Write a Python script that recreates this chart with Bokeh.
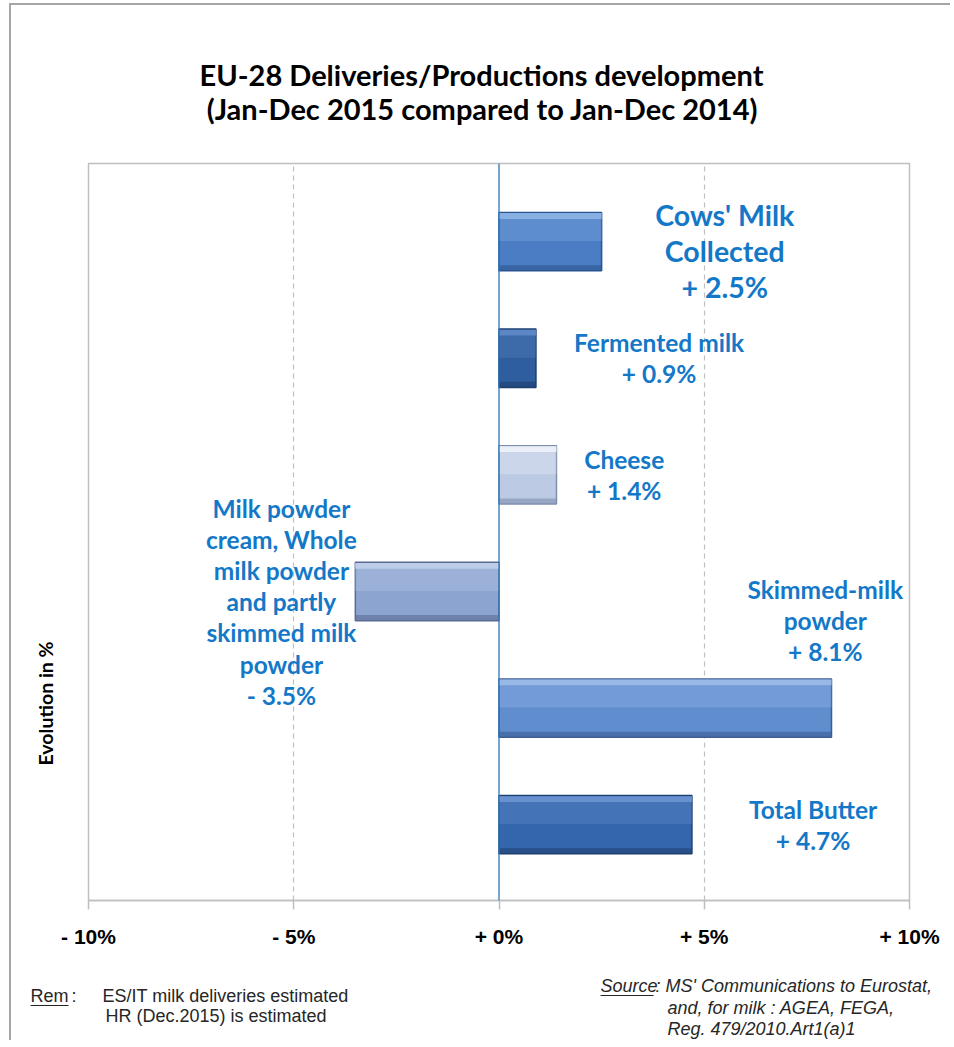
from bokeh.core.properties import value
from bokeh.embed import file_html
from bokeh.layouts import column, row
from bokeh.models import FixedTicker, Range1d, Span, Title
from bokeh.plotting import figure
from bokeh.resources import INLINE

# products, top to bottom as in the chart
CATEGORIES = ["Cows' Milk\nCollected", "Fermented milk", "Cheese",
              "Milk powder\ncream, Whole\nmilk powder\nand partly\nskimmed milk\npowder",
              "Skimmed-milk\npowder", "Total Butter"]
CHANGES = [2.5, 0.9, 1.4, -3.5, 8.1, 4.7]
TICKS = [-10, -5, 0, 5, 10]
TICK_LABELS = ["- 10%", "- 5%", "+ 0%", "+ 5%", "+ 10%"]
TITLE = ["EU-28 Deliveries/Productions development",
         "(Jan-Dec 2015 compared to Jan-Dec 2014)"]
Y_LABEL = "Evolution in %"

# bar look: body, highlight, edge
FILLS = ["#4A7DC4", "#2F5E9E", "#BCCAE4", "#8CA4D0", "#608DCE", "#3366AD"]
LIGHTS = ["#8DB4E6", "#5F8AC6", "#EEF2FA", "#C2D1EC", "#9CBDEA", "#6C95D2"]
EDGES = ["#2B5590", "#1D3F6E", "#7F8FAE", "#5A6C94", "#3C5E94", "#1F406F"]
# where each label sits: x in %, shift in category units
LABEL_X = [5.5, 3.9, 3.05, -5.3, 7.95, 7.65]
LABEL_DY = [-0.08, 0.0, 0.0, -0.09, 0.75, 0.0]
LABEL_BLUE = "#1478C8"
GREY = "#BFBFBF"
W = 950


def pixel_figure(h):
    # a strip where data units are page pixels, for texts around the chart
    f = figure(width=W, height=h, output_backend="svg", toolbar_location=None,
               tools="", x_range=Range1d(0, W), y_range=Range1d(h, 0),
               min_border=0)
    f.axis.visible = False
    f.grid.visible = False
    f.outline_line_color = None
    f.background_fill_color = None
    f.border_fill_color = None
    return f


n = len(CATEGORIES)
pos = [n - i for i in range(n)]

# title strip
head = pixel_figure(150)
head.text(x=[481, 482], y=[74, 108], text=TITLE, text_font=value("Lato"),
          text_font_style="bold", text_font_size="29px", text_color="black",
          text_align="center", text_baseline="middle")

p = figure(width=W, height=810, output_backend="svg", toolbar_location=None,
           tools="", title=None, x_range=Range1d(-10, 10),
           y_range=Range1d(0.35, 6.67), min_border_left=88,
           min_border_right=W - 909, min_border_top=13, min_border_bottom=60)
p.outline_line_color = GREY
p.outline_line_width = 1.5
p.border_fill_color = None

p.add_layout(Title(text=Y_LABEL, align="left", offset=135, standoff=63,
                   text_font="Lato", text_font_style="bold",
                   text_font_size="19.5px", text_color="black"), "left")

p.ygrid.visible = False
p.yaxis.visible = False
p.xgrid.ticker = FixedTicker(ticks=[t for t in TICKS if abs(t) == 5])
p.xgrid.grid_line_color = GREY
p.xgrid.grid_line_dash = "5 4"
p.xgrid.grid_line_width = 1.2

ax = p.xaxis[0]
ax.ticker = FixedTicker(ticks=TICKS)
ax.major_label_overrides = dict(zip(TICKS, TICK_LABELS))
ax.major_label_text_font = "Liberation Sans"
ax.major_label_text_font_style = "bold"
ax.major_label_text_font_size = "21px"
ax.major_label_text_color = "black"
ax.major_label_standoff = 15
ax.axis_line_color = GREY
ax.axis_line_width = 1.5
ax.major_tick_line_color = GREY
ax.major_tick_line_width = 1.5
ax.major_tick_out = 9
ax.major_tick_in = 0
ax.minor_tick_line_color = None

# bars with a simple bevel
p.hbar(y=pos, left=0, right=CHANGES, height=0.5, fill_color=FILLS,
       line_color=EDGES, line_width=1.5)
p.hbar(y=[y + 0.125 for y in pos], left=0, right=CHANGES, height=0.24,
       fill_color=LIGHTS, fill_alpha=0.3, line_color=None)
p.hbar(y=[y + 0.22 for y in pos], left=0, right=CHANGES, height=0.05,
       fill_color=LIGHTS, fill_alpha=0.9, line_color=None)
p.hbar(y=[y - 0.225 for y in pos], left=0, right=CHANGES, height=0.045,
       fill_color=EDGES, fill_alpha=0.6, line_color=None)

p.add_layout(Span(location=0, dimension="height", line_color="#2E75B6",
                  line_width=1.3))

for i, name in enumerate(CATEGORIES):
    v = CHANGES[i]
    sign = "+" if v >= 0 else "-"
    big = i == 0
    p.text(x=[LABEL_X[i]], y=[pos[i] + LABEL_DY[i]],
           text=[f"{name}\n{sign} {abs(v)}%"],
           text_font=value("Lato"), text_font_style="bold",
           text_font_size="28.5px" if big else "24.5px",
           text_line_height=1.064 if big else 1.07,
           text_color=LABEL_BLUE, text_align="center", text_baseline="middle")

# remarks and sources under the chart
notes = pixel_figure(80)
note_texts = [("Rem", 30, 35, "normal"), (":", 71, 35, "normal"),
              ("ES/IT  milk deliveries estimated", 102, 35, "normal"),
              ("HR (Dec.2015) is estimated", 105, 55, "normal"),
              ("Source", 600, 25, "italic"),
              (": MS' Communications to Eurostat,", 655, 25, "italic"),
              ("and, for milk : AGEA, FEGA,", 667, 47, "italic"),
              ("Reg. 479/2010.Art1(a)1", 667, 68, "italic")]
for txt, x, y, style in note_texts:
    notes.text(x=[x], y=[y], text=[txt], text_font=value("Liberation Sans"),
               text_font_style=style, text_font_size="18px",
               text_color="#262626", text_align="left", text_baseline="middle")
notes.segment(x0=[30, 600], y0=[45, 35], x1=[68, 653], y1=[45, 35],
              line_color="#262626", line_width=1)

# thin grey frame of the whole picture (top and left edges)
frame_css = {
    "background-color": "white",
    "background-image": "linear-gradient(#A6A6A6, #A6A6A6), "
                        "linear-gradient(#A6A6A6, #A6A6A6)",
    "background-size": "2px 100%, 100% 2px",
    "background-position": "9px 4px, 9px 3px",
    "background-repeat": "no-repeat",
}
page = column(row(head), p, row(notes), styles=frame_css)

open("out.html", "w").write(file_html(page, INLINE))
